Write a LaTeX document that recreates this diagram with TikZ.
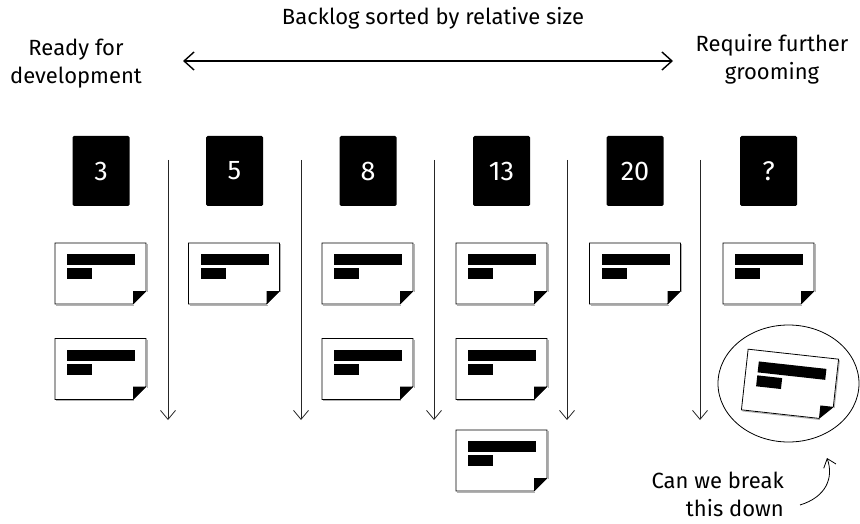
\documentclass[tikz,border=0pt]{standalone}
\usepackage{fontspec}
\setmainfont[Numbers=Lining]{Fira Sans}
\usetikzlibrary{arrows.meta,shapes.geometric}
\begin{document}
\begin{tikzpicture}[x=1pt,y=-1pt,
  txt/.style={font=\fontsize{22}{28}\selectfont, align=center, inner sep=0pt},
  sizebox/.style={fill=black, rounded corners=1.5pt, minimum width=57pt,
    minimum height=70pt, inner sep=0pt, text=white,
    font=\fontsize{27}{30}\selectfont},
  flow/.style={draw=black!85, line width=0.8pt,
    -{Straight Barb[length=9pt,width=15pt,line width=0.8pt]}},
  spanline/.style={draw, line width=1.4pt,
    {Straight Barb[length=10pt,width=18pt,line width=1.4pt]}-{Straight Barb[length=10pt,width=18pt,line width=1.4pt]}},
  card/.pic={
    % soft shadow along the lower and right edges
    \draw[black!30, line width=1pt] (-44.5,31.5) -- (33.5,31.5);
    \draw[black!30, line width=1pt] (46.5,-29.5) -- (46.5,18.5);
    % sheet with folded corner
    \draw[line width=0.8pt, fill=white] (-45.5,-30.5) -- (45.5,-30.5) -- (45.5,17.5)
      -- (32.5,30.5) -- (-45.5,30.5) -- cycle;
    \fill (32.5,30.5) -- (45.5,17.5) -- (32.5,17.5) -- cycle;
    % text lines
    \fill (-33.5,-19.5) rectangle (34.5,-8.5);
    \fill (-33.5,-5.5) rectangle (-8.5,5.5);
  }]
\useasboundingbox (0,0) rectangle (860,524);

% headings
\node[txt] (title) at (433,18) {Backlog sorted by relative size};
\node[txt] (ready) at (76,64) {Ready for\\development};
\node[txt] (groom) at (772,59) {Require further\\grooming};
\coordinate (rl) at (183,61);
\coordinate (rr) at (673,61);
\draw[spanline] (rl) -- (rr);

% size headers
\node[sizebox] (s3)  at (101,171)   {3};
\node[sizebox] (s5)  at (234.5,171) {5};
\node[sizebox] (s8)  at (368,171)   {8};
\node[sizebox] (s13) at (501.5,171) {13};
\node[sizebox] (s20) at (635,171)   {20};
\node[sizebox] (sq)  at (768.5,171) {?};

% column dividers
\foreach \i/\x in {1/168,2/301,3/434,4/567,5/700}{
  \coordinate (d\i t) at (\x,160);
  \coordinate (d\i b) at (\x,420);
  \draw[flow] (d\i t) -- (d\i b);
}

% stories
\pic (c31)  at (100.5,273.5) {card};
\pic (c32)  at (100.5,369)   {card};
\pic (c51)  at (234,273.5)   {card};
\pic (c81)  at (367.5,273.5) {card};
\pic (c82)  at (367.5,369)   {card};
\pic (c131) at (501.5,273.5) {card};
\pic (c132) at (501.5,369)   {card};
\pic (c133) at (501.5,460.5) {card};
\pic (c201) at (635,273.5)   {card};
\pic (cq1)  at (768.5,273.5) {card};

% story needing a split
\node[ellipse, draw, line width=0.8pt, minimum width=141pt, minimum height=117pt]
  (focus) at (788.5,383.5) {};
\pic[rotate=-6.3] (cq2) at (790,384.5) {card};

\node[txt, align=right, anchor=north east] (ask) at (784,472)
  {Can we break\\this down};
\coordinate (qs) at (800,505);
\coordinate (qe) at (827,458);
\draw[line width=0.8pt, -{Straight Barb[length=8pt,width=13pt,line width=0.8pt]}]
  (qs) .. controls (826,497) and (834,478) .. (qe);
\end{tikzpicture}
\end{document}
